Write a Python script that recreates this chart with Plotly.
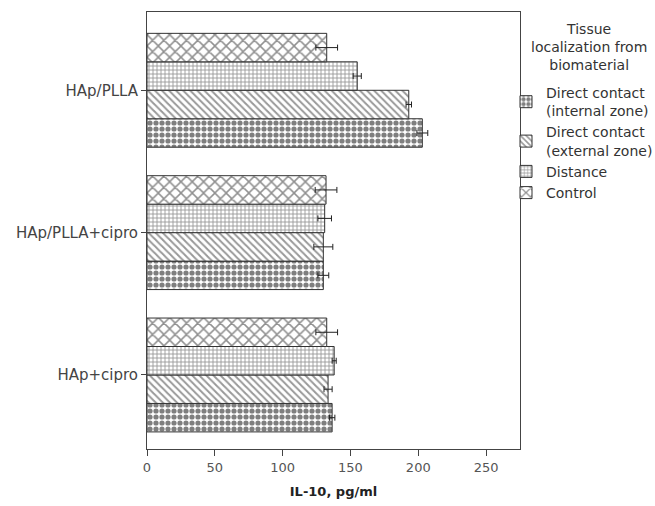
import plotly.graph_objects as go

categories = ["HAp+cipro", "HAp/PLLA+cipro", "HAp/PLLA"]
series_keys = ["internal", "external", "distance", "control"]
series_names = ["Direct contact<br>(internal zone)", "Direct contact<br>(external zone)", "Distance", "Control"]
values = {
    "internal": [136.5, 130.0, 203.0],
    "external": [133.5, 130.0, 193.0],
    "distance": [138.0, 131.0, 155.0],
    "control": [132.5, 132.0, 132.5],
}
errors = {
    "internal": [2.0, 4.0, 4.0],
    "external": [3.0, 7.0, 2.0],
    "distance": [1.5, 5.0, 3.0],
    "control": [8.0, 8.0, 8.0],
}
x_ticks = [0, 50, 100, 150, 200, 250]
legend_title = "Tissue<br>localization from<br>biomaterial"

patterns = {
    "internal": dict(shape=".", size=6, solidity=0.6, fgcolor="black", bgcolor="white"),
    "external": dict(shape="\\", size=5, solidity=0.4, fgcolor="#333333", bgcolor="white"),
    "distance": dict(shape="+", size=4, solidity=0.4, fgcolor="#333333", bgcolor="white"),
    "control": dict(shape="x", size=8, solidity=0.35, fgcolor="#222222", bgcolor="white"),
}

FONT = "DejaVu Sans, Liberation Sans, sans-serif"
PAPER_W = 655 - 147
PAPER_H = 506 - 12 - 57
fig = go.Figure()
for key, name in zip(series_keys, series_names):
    fig.add_trace(go.Bar(
        y=categories, x=values[key], name=name, orientation="h",
        marker=dict(color="white", pattern=patterns[key], line=dict(color="#333333", width=1)),
        error_x=dict(type="data", array=errors[key], visible=True, color="#222222", thickness=1, width=3),
    ))

fig.add_annotation(
    text=legend_title, xref="paper", yref="paper",
    x=(589 - 147) / PAPER_W, y=1 - (19 - 12) / PAPER_H, xanchor="center", yanchor="top",
    align="center", showarrow=False, font=dict(size=14, color="#333333", family=FONT),
)

fig.update_layout(
    width=655, height=506,
    margin=dict(l=147, r=0, t=12, b=57, autoexpand=False),
    barmode="group", bargap=0.2, bargroupgap=0.0,
    plot_bgcolor="white", paper_bgcolor="white",
    font=dict(family=FONT, size=13, color="#444444"),
    legend=dict(
        x=(506 - 147) / PAPER_W, y=1 - (77 - 12) / PAPER_H, xanchor="left", yanchor="top",
        font=dict(size=14, color="#333333", family=FONT),
        traceorder="normal", itemwidth=30, tracegroupgap=0,
        bgcolor="rgba(0,0,0,0)",
    ),
    xaxis=dict(
        domain=[0, 373 / PAPER_W],
        range=[0, 275], tickvals=x_ticks, ticks="outside", ticklen=6, tickcolor="#444444",
        showline=True, linecolor="#444444", linewidth=1, mirror=True, showgrid=False, zeroline=False,
        title=dict(text="<b>IL-10, pg/ml</b>", font=dict(size=13, color="#222222", family=FONT), standoff=13),
        tickfont=dict(size=13, color="#555555", family=FONT),
    ),
    yaxis=dict(
        range=[-0.52, 2.55],
        ticks="outside", ticklen=5, tickcolor="#444444",
        showline=True, linecolor="#444444", linewidth=1, mirror=True, showgrid=False,
        tickfont=dict(size=15, color="#444444", family=FONT),
    ),
)

fig.write_html("out.html")
